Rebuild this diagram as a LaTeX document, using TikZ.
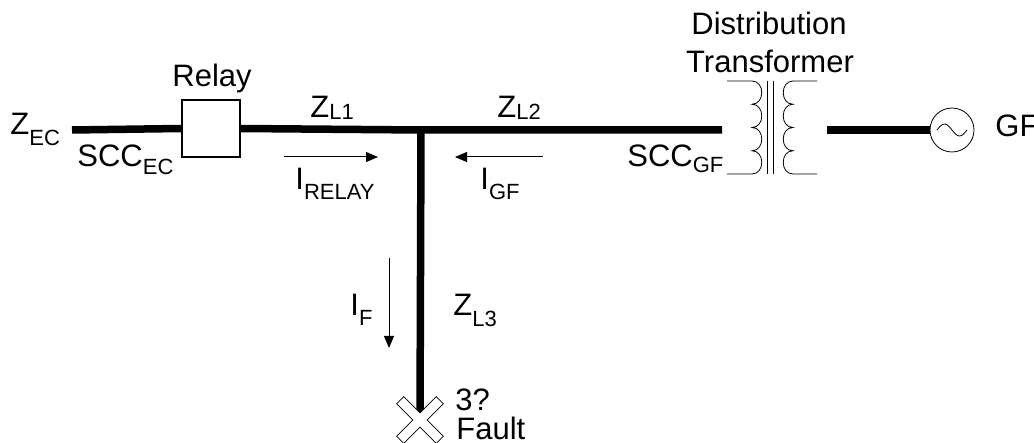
\documentclass[tikz,border=0pt]{standalone}
\usepackage{fontspec}
\setmainfont{Liberation Sans}
\usetikzlibrary{arrows.meta,positioning,calc}
\newcommand{\lsub}[2][5pt]{\raisebox{-#1}{\fontsize{11}{12}\selectfont #2}}

\begin{document}
\begin{tikzpicture}[x=0.5pt, y=-0.5pt,
        font=\fontsize{15.5}{18}\selectfont,
        bus/.style={line width=3.75pt},
        wire/.style={line width=0.4pt},
        flow/.style={-{Triangle[length=6pt, width=5pt]}, line width=0.5pt},
        lbl/.style={anchor=base west, inner sep=0pt}
    ]
        \useasboundingbox (0,0) rectangle (1034,443);

        % Source side and relay
        \coordinate (ec) at (72,130);
        \coordinate (jn) at (421,130);
        \coordinate (tl) at (722,130);
        \node[draw, fill=white, line width=1pt, minimum width=29pt, minimum height=28.5pt, inner sep=0pt] (relay) at (211,128.5) {};
        \draw[bus] (ec) -- (relay.west);
        \draw[bus] (relay.east) -- (jn) -- (tl);

        \node[lbl] (zec) at (10,135) {Z\lsub[5.5pt]{EC}};
        \node[lbl] (sccec) at (77,167) {SCC\lsub[4pt]{EC}};
        \node[lbl] (relaylbl) at (172,87) {Relay};
        \node[lbl] (zl1) at (310,118) {Z\lsub[1pt]{L1}};
        \node[lbl] (zl2) at (497,118) {Z\lsub[1pt]{L2}};

        % Currents on the bus
        \coordinate (irs) at (284,157);
        \coordinate (ire) at (378,157);
        \draw[flow] (irs) -- (ire);
        \node[lbl] (irelay) at (295,190) {I\lsub{RELAY}};
        \coordinate (igs) at (543,157);
        \coordinate (ige) at (455,157);
        \draw[flow] (igs) -- (ige);
        \node[lbl] (igf) at (480,190) {I\lsub{GF}};

        % Feeder to the fault
        \coordinate (fault) at (420,420);
        \draw[bus] (jn) -- (fault);
        \draw[wire, fill=white, shift={(fault)}, rotate=45]
            (5,28) -- (5,5) -- (28,5) -- (28,-5) -- (5,-5) -- (5,-28)
            -- (-5,-28) -- (-5,-5) -- (-28,-5) -- (-28,5) -- (-5,5) -- (-5,28) -- cycle;
        \coordinate (ifs) at (389,258);
        \coordinate (ife) at (389,348);
        \draw[flow] (ifs) -- (ife);
        \node[lbl] (if) at (350,316) {I\lsub{F}};
        \node[lbl] (zl3) at (453,316) {Z\lsub[5.5pt]{L3}};
        \node[lbl] (three) at (455,410) {3?};
        \node[lbl] (faultlbl) at (456,439) {Fault};

        % Distribution transformer
        \draw[wire] (727,81) -- (752,81)
            \foreach \k in {1,...,4}{ .. controls +(13,0) and +(13,0) .. ++(0,23.25)} -- (727,174);
        \draw[wire] (817,81) -- (793,81)
            \foreach \k in {1,...,4}{ .. controls +(-13,0) and +(-13,0) .. ++(0,23.25)} -- (817,174);
        \draw[wire] (767,81) -- (767,174) (773,81) -- (773,174);
        \node[anchor=base, inner sep=0pt] (dist) at (769,35) {Distribution};
        \node[anchor=base, inner sep=0pt] (trafo) at (770,73) {Transformer};
        \node[lbl] (sccgf) at (627,167) {SCC\lsub[3pt]{GF}};

        % Generator
        \coordinate (tr) at (827,130);
        \node[draw, circle, wire, minimum size=22pt, inner sep=0pt] (gen) at (952,130) {};
        \draw[bus] (tr) -- (gen.west);
        \draw[wire] ($(gen)+(-15,0)$) sin ++(7.5,-6) cos ++(7.5,6) sin ++(7.5,6) cos ++(7.5,-6);
        \node[lbl] (gf) at (995,137) {GF};
    \end{tikzpicture}
\end{document}
